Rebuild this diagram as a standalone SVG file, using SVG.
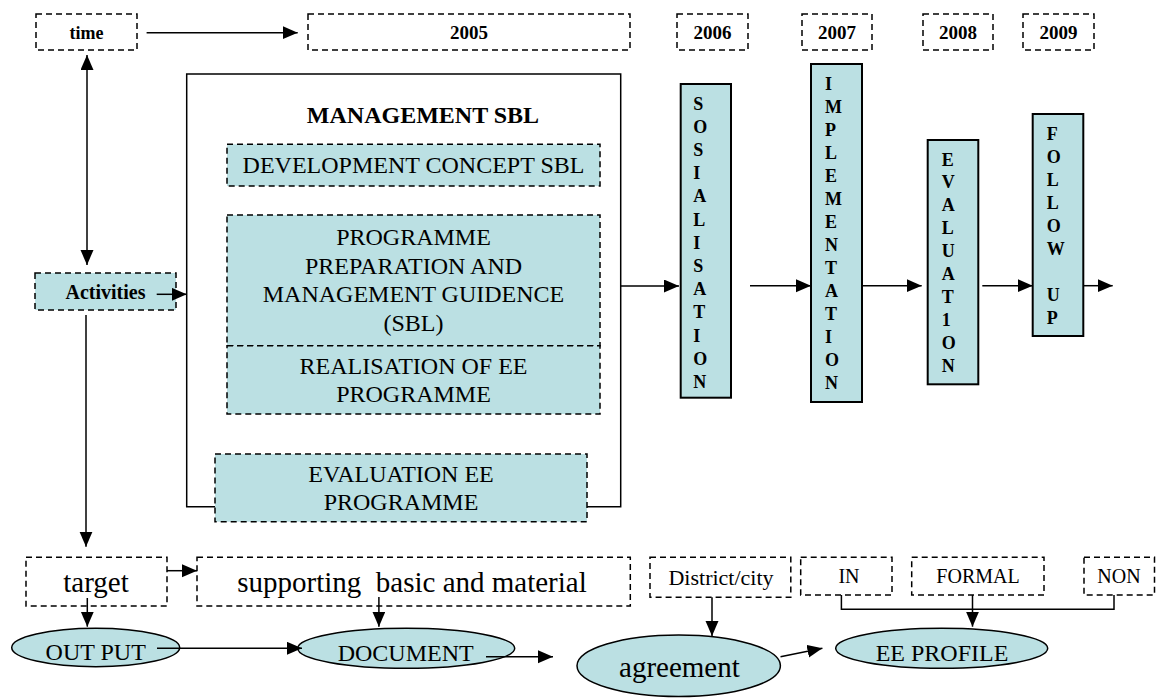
<svg xmlns="http://www.w3.org/2000/svg" width="1156" height="698" viewBox="0 0 1156 698">
<defs>
<marker id="ah" markerUnits="userSpaceOnUse" markerWidth="16" markerHeight="14" refX="15" refY="6.5" orient="auto"><path d="M0,0 L15,6.5 L0,13 z" fill="#000"/></marker>
<style>
.dash{fill:#fff;stroke:#000;stroke-width:1.5;stroke-dasharray:6 4}
.dashc{fill:#BBE0E3;stroke:#000;stroke-width:1.5;stroke-dasharray:6 4}
.solidc{fill:#BBE0E3;stroke:#000;stroke-width:2}
.ell{fill:#BBE0E3;stroke:#000;stroke-width:1.5}
.t{font-family:'Liberation Serif','Times New Roman',Tinos,'DejaVu Serif','Noto Serif',serif;fill:#000;text-anchor:middle}
.b{font-weight:bold}
.v{font-family:'Liberation Serif','Times New Roman',Tinos,'DejaVu Serif','Noto Serif',serif;font-weight:bold;font-size:18px;fill:#000}
.ln{fill:none;stroke:#000;stroke-width:1.5}
</style>
</defs>
<rect width="1156" height="698" fill="#fff"/>

<g id="time"><rect class="dash" x="36" y="14" width="101" height="36"/><text class="t b" x="86.5" y="38.5" font-size="18">time</text></g>
<g id="y2005"><rect class="dash" x="308" y="14" width="322" height="36"/><text class="t b" x="469" y="39" font-size="19">2005</text></g>
<g id="y2006"><rect class="dash" x="677" y="14" width="71" height="36"/><text class="t b" x="712.5" y="39" font-size="19">2006</text></g>
<g id="y2007"><rect class="dash" x="802" y="14" width="70" height="36"/><text class="t b" x="837" y="39" font-size="19">2007</text></g>
<g id="y2008"><rect class="dash" x="923" y="14" width="70" height="36"/><text class="t b" x="958" y="39" font-size="19">2008</text></g>
<g id="y2009"><rect class="dash" x="1023" y="14" width="71" height="36"/><text class="t b" x="1058.5" y="39" font-size="19">2009</text></g>

<g id="activities"><rect class="dashc" x="35" y="273" width="141" height="37"/><text class="t b" x="105.5" y="299" font-size="20">Activities</text></g>

<g id="management">
<path class="ln" d="M215,506.7 H186.7 V74 H620.7 V506.7 H587"/>
<text class="t b" x="423" y="122.5" font-size="24">MANAGEMENT SBL</text>
</g>
<g id="devconcept"><rect class="dashc" x="227" y="144.3" width="373" height="41.7"/><text class="t" x="413.5" y="172.5" font-size="24">DEVELOPMENT CONCEPT SBL</text></g>
<g id="progprep"><rect class="dashc" x="227" y="215" width="373" height="130.7"/>
<text class="t" font-size="24"><tspan x="413.5" y="245">PROGRAMME</tspan><tspan x="413.5" y="273.5">PREPARATION AND</tspan><tspan x="413.5" y="302.2">MANAGEMENT GUIDENCE</tspan><tspan x="413.5" y="331">(SBL)</tspan></text></g>
<g id="realisation"><rect class="dashc" x="227" y="345.7" width="373" height="68.3"/>
<text class="t" font-size="24"><tspan x="413.5" y="374">REALISATION OF EE</tspan><tspan x="413.5" y="401.7">PROGRAMME</tspan></text></g>
<g id="evalee"><rect class="dashc" x="215" y="454" width="372" height="67.7"/>
<text class="t" font-size="24"><tspan x="401" y="481.7">EVALUATION EE</tspan><tspan x="401" y="509.5">PROGRAMME</tspan></text></g>

<g id="sosialisation"><rect class="solidc" x="680.7" y="84" width="50.3" height="313.7"/>
<text class="v"><tspan x="693.3" y="109.5">S</tspan><tspan x="693.3" y="132.7">O</tspan><tspan x="693.3" y="155.9">S</tspan><tspan x="693.3" y="179.1">I</tspan><tspan x="693.3" y="202.3">A</tspan><tspan x="693.3" y="225.5">L</tspan><tspan x="693.3" y="248.7">I</tspan><tspan x="693.3" y="271.9">S</tspan><tspan x="693.3" y="295.1">A</tspan><tspan x="693.3" y="318.3">T</tspan><tspan x="693.3" y="341.5">I</tspan><tspan x="693.3" y="364.7">O</tspan><tspan x="693.3" y="387.9">N</tspan></text></g>
<g id="implementation"><rect class="solidc" x="811" y="64" width="51" height="338"/>
<text class="v"><tspan x="825" y="89.5">I</tspan><tspan x="825" y="112.5">M</tspan><tspan x="825" y="135.6">P</tspan><tspan x="825" y="158.6">L</tspan><tspan x="825" y="181.6">E</tspan><tspan x="825" y="204.7">M</tspan><tspan x="825" y="227.7">E</tspan><tspan x="825" y="250.7">N</tspan><tspan x="825" y="273.7">T</tspan><tspan x="825" y="296.8">A</tspan><tspan x="825" y="319.8">T</tspan><tspan x="825" y="342.8">I</tspan><tspan x="825" y="365.9">O</tspan><tspan x="825" y="388.9">N</tspan></text></g>
<g id="evaluation"><rect class="solidc" x="927.7" y="140" width="50.6" height="244.3"/>
<text class="v"><tspan x="941.7" y="165.5">E</tspan><tspan x="941.7" y="188.4">V</tspan><tspan x="941.7" y="211.3">A</tspan><tspan x="941.7" y="234.2">L</tspan><tspan x="941.7" y="257.1">U</tspan><tspan x="941.7" y="280">A</tspan><tspan x="941.7" y="302.9">T</tspan><tspan x="941.7" y="325.8">1</tspan><tspan x="941.7" y="348.7">O</tspan><tspan x="941.7" y="371.6">N</tspan></text></g>
<g id="followup"><rect class="solidc" x="1032.7" y="114" width="50.6" height="222"/>
<text class="v"><tspan x="1046.7" y="139.5">F</tspan><tspan x="1046.7" y="162.5">O</tspan><tspan x="1046.7" y="185.5">L</tspan><tspan x="1046.7" y="208.5">L</tspan><tspan x="1046.7" y="231.5">O</tspan><tspan x="1046.7" y="254.5">W</tspan><tspan x="1046.7" y="300.5">U</tspan><tspan x="1046.7" y="323.5">P</tspan></text></g>

<g id="target"><rect class="dash" x="26" y="557.3" width="141" height="48.7"/><text class="t" x="96" y="591.7" font-size="29">target</text></g>
<g id="supporting"><rect class="dash" x="197" y="557.3" width="433.3" height="48.7"/><text class="t" x="412" y="591.7" font-size="29" xml:space="preserve">supporting  basic and material</text></g>
<g id="district"><rect class="dash" x="650" y="557.3" width="140.8" height="40"/><text class="t" x="721" y="585" font-size="22">District/city</text></g>
<g id="in"><rect class="dash" x="800.7" y="557.3" width="91.3" height="37.7"/><text class="t" x="849" y="583.3" font-size="20">IN</text></g>
<g id="formal"><rect class="dash" x="911.7" y="557.3" width="132.3" height="37.7"/><text class="t" x="978" y="583.3" font-size="20">FORMAL</text></g>
<g id="non"><rect class="dash" x="1084" y="557.3" width="70.5" height="37.7"/><text class="t" x="1119" y="583.3" font-size="20">NON</text></g>

<g id="output"><ellipse class="ell" cx="95.7" cy="647.5" rx="84" ry="19.2"/><text class="t" x="95.7" y="660" font-size="24">OUT PUT</text></g>
<g id="document"><ellipse class="ell" cx="406.2" cy="648.3" rx="108.5" ry="20"/><text class="t" x="405.7" y="661" font-size="24">DOCUMENT</text></g>
<g id="agreement"><ellipse class="ell" cx="678.7" cy="665.8" rx="101.7" ry="30.8"/><text class="t" x="679.4" y="676.7" font-size="29">agreement</text></g>
<g id="eeprofile"><ellipse class="ell" cx="941.7" cy="648.3" rx="106" ry="20"/><text class="t" x="942" y="661" font-size="24">EE PROFILE</text></g>

<g id="connectors">
<line class="ln" x1="146.6" y1="32.7" x2="297.7" y2="32.7" marker-end="url(#ah)"/>
<line class="ln" x1="87" y1="160" x2="87" y2="55" marker-end="url(#ah)"/>
<line class="ln" x1="87" y1="160" x2="87" y2="265" marker-end="url(#ah)"/>
<line class="ln" x1="156.7" y1="294.3" x2="186.7" y2="294.3" marker-end="url(#ah)"/>
<line class="ln" x1="86" y1="315" x2="86" y2="546.7" marker-end="url(#ah)"/>
<line class="ln" x1="620.7" y1="286" x2="679" y2="286" marker-end="url(#ah)"/>
<line class="ln" x1="750" y1="285.7" x2="811" y2="285.7" marker-end="url(#ah)"/>
<line class="ln" x1="862" y1="285.7" x2="921.7" y2="285.7" marker-end="url(#ah)"/>
<line class="ln" x1="982.3" y1="285.7" x2="1032.7" y2="285.7" marker-end="url(#ah)"/>
<line class="ln" x1="1083.3" y1="285.7" x2="1112.7" y2="285.7" marker-end="url(#ah)"/>
<line class="ln" x1="167" y1="570.7" x2="197" y2="570.7" marker-end="url(#ah)"/>
<line class="ln" x1="87.3" y1="598" x2="87.3" y2="626.7" marker-end="url(#ah)"/>
<line class="ln" x1="378.9" y1="597" x2="378.9" y2="626.7" marker-end="url(#ah)"/>
<line class="ln" x1="157" y1="648.3" x2="302" y2="648.3" marker-end="url(#ah)"/>
<line class="ln" x1="486" y1="656.7" x2="553" y2="656.7" marker-end="url(#ah)"/>
<line class="ln" x1="712" y1="597.3" x2="712" y2="636" marker-end="url(#ah)"/>
<line class="ln" x1="780.5" y1="656.7" x2="822.4" y2="648.3" marker-end="url(#ah)"/>
<path class="ln" d="M841.4,595 V609.3 H1114 V595"/>
<line class="ln" x1="972.5" y1="595" x2="972.5" y2="626.7" marker-end="url(#ah)"/>
</g>
</svg>
